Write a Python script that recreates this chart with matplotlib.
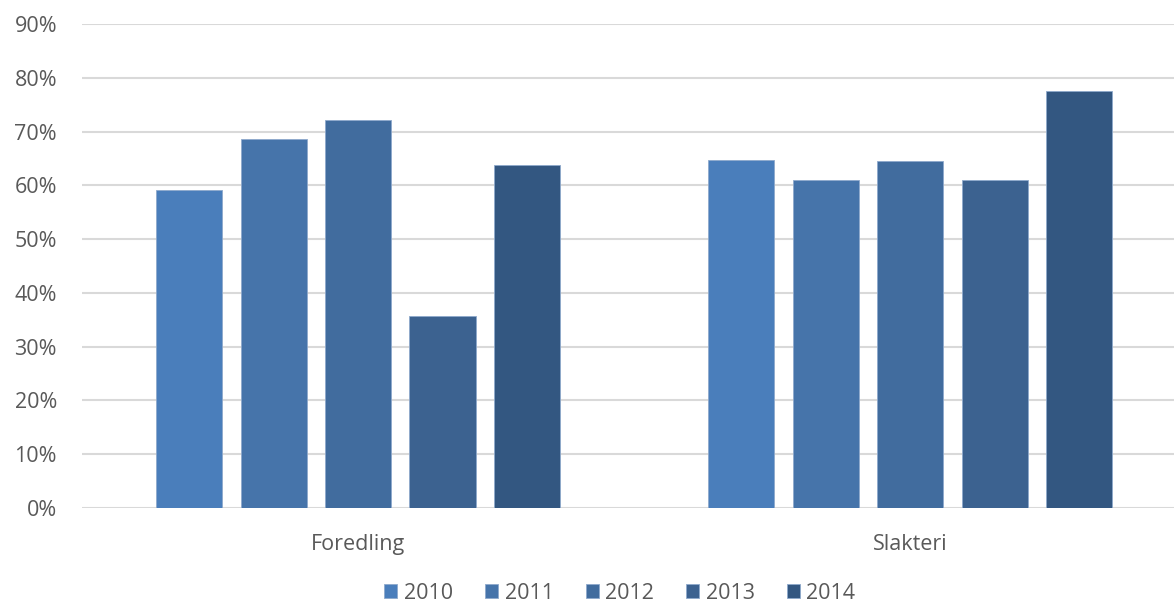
import numpy as np
import matplotlib.pyplot as plt
from matplotlib.ticker import PercentFormatter

categories = ['Foredling', 'Slakteri']
years = ['2010', '2011', '2012', '2013', '2014']
vals_2010 = [59.2, 64.8]
vals_2011 = [68.6, 60.9]
vals_2012 = [72.2, 64.6]
vals_2013 = [35.7, 60.9]
vals_2014 = [63.8, 77.6]
series = [vals_2010, vals_2011, vals_2012, vals_2013, vals_2014]
colors = ['#4A7EBB', '#4674AA', '#416C9E', '#3C6290', '#335781']

plt.rcParams['font.family'] = ['Open Sans', 'DejaVu Sans']

fig = plt.figure(figsize=(11.74, 6.05), dpi=100)
ax = fig.add_axes([82/1174, 1 - 508/605, 1 - 82/1174, 484/605])

x = np.arange(len(categories))
step = 0.153
w = 0.1196
for i, (yr, v, c) in enumerate(zip(years, series, colors)):
    ax.bar(x + (i - 2) * step, v, width=w, color=c, edgecolor='#8EA9CC',
           linewidth=0.6, label=yr, zorder=3)

ax.set_xlim(-0.5, 1.478)
ax.set_ylim(0, 90)
ax.set_yticks(np.arange(0, 91, 10))
ax.yaxis.set_major_formatter(PercentFormatter(decimals=0))
ax.set_xticks(x)
ax.set_xticklabels(categories)
ax.grid(axis='y', color='#D9D9D9', linewidth=1.5, zorder=0)
for s in ax.spines.values():
    s.set_visible(False)
ax.tick_params(axis='y', length=0, pad=18, labelsize=15.5, labelcolor='#595959')
ax.tick_params(axis='x', length=0, pad=19, labelsize=15.5, labelcolor='#595959')

leg = fig.legend(loc='lower center', bbox_to_anchor=(0.528, -0.03), ncol=5,
                 frameon=False, fontsize=15.5, handlelength=0.6, handleheight=0.6,
                 handletextpad=0.3, columnspacing=1.5)
for t in leg.get_texts():
    t.set_color('#595959')

fig.savefig('out.png', dpi=100)
